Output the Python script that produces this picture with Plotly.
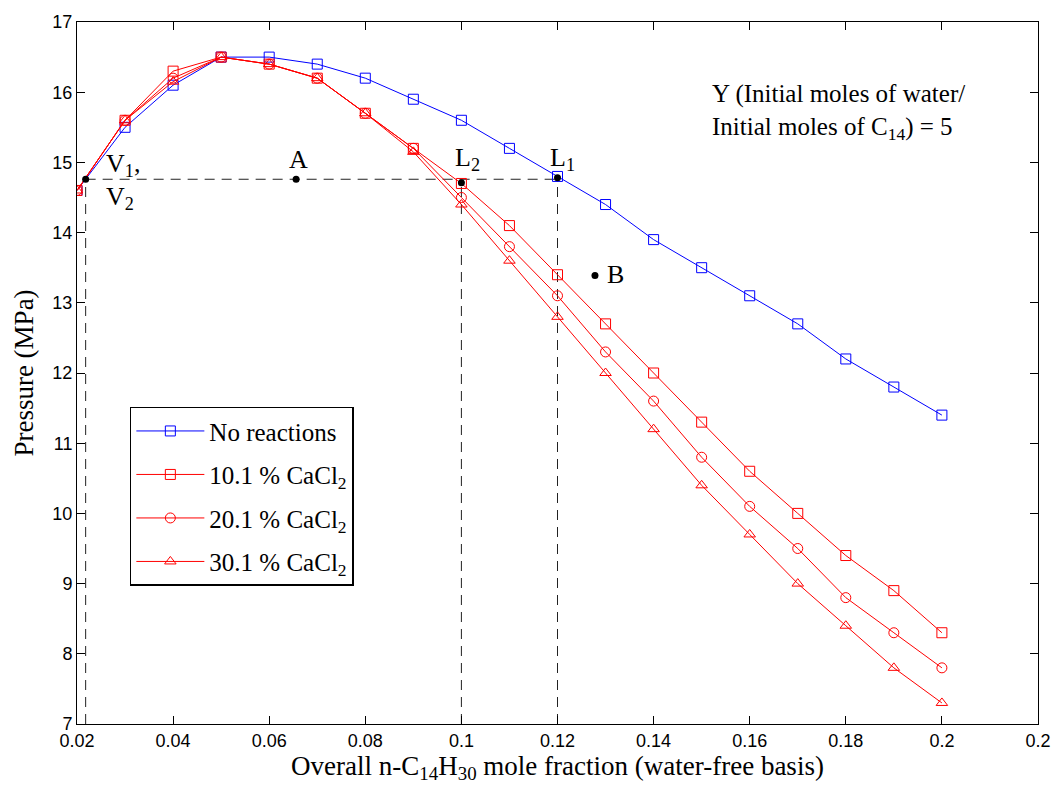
import plotly.graph_objects as go

x_frac = [0.02, 0.03, 0.04, 0.05, 0.06, 0.07, 0.08, 0.09, 0.10, 0.11,
          0.12, 0.13, 0.14, 0.15, 0.16, 0.17, 0.18, 0.19, 0.20]
p_none = [14.6, 15.5, 16.1, 16.5, 16.5, 16.4, 16.2, 15.9, 15.6, 15.2,
          14.8, 14.4, 13.9, 13.5, 13.1, 12.7, 12.2, 11.8, 11.4]
p_101 = [14.6, 15.6, 16.3, 16.5, 16.4, 16.2, 15.7, 15.2, 14.7, 14.1,
         13.4, 12.7, 12.0, 11.3, 10.6, 10.0, 9.4, 8.9, 8.3]
p_201 = [14.6, 15.6, 16.2, 16.5, 16.4, 16.2, 15.7, 15.2, 14.5, 13.8,
         13.1, 12.3, 11.6, 10.8, 10.1, 9.5, 8.8, 8.3, 7.8]
p_301 = [14.6, 15.6, 16.15, 16.5, 16.4, 16.2, 15.7, 15.15, 14.4, 13.6,
         12.8, 12.0, 11.2, 10.4, 9.7, 9.0, 8.4, 7.8, 7.3]

# Special points (V1/V2, A, L2, L1, B)
pt_names = ["V", "A", "L2", "L1", "B"]
pt_x = [0.0218, 0.0656, 0.100, 0.120, 0.1278]
pt_y = [14.76, 14.76, 14.71, 14.78, 13.39]

# Tie-line (dashed) guides
tie_x = [0.0218, 0.120]
tie_y = [14.76, 14.76]
vert_x = [0.0218, 0.100, 0.120]
vert_top = [14.76, 14.71, 14.78]
y_min = 7

xticks = [0.02, 0.04, 0.06, 0.08, 0.10, 0.12, 0.14, 0.16, 0.18, 0.20, 0.22]
xtick_text = ["0.02", "0.04", "0.06", "0.08", "0.1", "0.12", "0.14", "0.16", "0.18", "0.2", "0.2"]
yticks = [7, 8, 9, 10, 11, 12, 13, 14, 15, 16, 17]

SERIF = "Liberation Serif"
SANS = "Liberation Sans"
BLUE = "#0000ff"
RED = "#ff0000"

fig = go.Figure()

# dashed guides
fig.add_trace(go.Scatter(x=tie_x, y=tie_y, mode="lines",
                         line=dict(color="#222222", width=1, dash="10px,7px"),
                         showlegend=False, hoverinfo="skip"))
for vx, vt in zip(vert_x, vert_top):
    fig.add_trace(go.Scatter(x=[vx, vx], y=[y_min, vt], mode="lines",
                             line=dict(color="#222222", width=1, dash="10px,7px"),
                             showlegend=False, hoverinfo="skip"))

series = [
    ("No reactions", p_none, BLUE, "square-open", 10),
    ("10.1 % CaCl<sub>2</sub>", p_101, RED, "square-open", 10),
    ("20.1 % CaCl<sub>2</sub>", p_201, RED, "circle-open", 10),
    ("30.1 % CaCl<sub>2</sub>", p_301, RED, "triangle-up-open", 10),
]
for i, (name, yv, col, sym, sz) in enumerate(series):
    fig.add_trace(go.Scatter(
        x=x_frac, y=yv, mode="lines+markers", name=name,
        legendgroup=f"g{i}",
        line=dict(color=col, width=1),
        marker=dict(symbol=sym, size=sz, color=col, line=dict(color=col, width=1)),
    ))

fig.add_trace(go.Scatter(x=pt_x, y=pt_y, mode="markers",
                         marker=dict(color="black", size=7),
                         showlegend=False, hoverinfo="skip"))

ann = [
    dict(x=pt_x[0], y=pt_y[0], text="V<sub>1</sub>,", xshift=18, yshift=14, anchor="left"),
    dict(x=pt_x[0], y=pt_y[0], text="V<sub>2</sub>", xshift=18, yshift=-19, anchor="left"),
    dict(x=pt_x[1], y=pt_y[1], text="A", xshift=2, yshift=20, anchor="center"),
    dict(x=pt_x[2], y=pt_y[2], text="L<sub>2</sub>", xshift=-8, yshift=24, anchor="left"),
    dict(x=pt_x[3], y=pt_y[3], text="L<sub>1</sub>", xshift=-10, yshift=19, anchor="left"),
    dict(x=pt_x[4], y=pt_y[4], text="B", xshift=10, yshift=1, anchor="left"),
]
annotations = []
for a in ann:
    annotations.append(dict(x=a["x"], y=a["y"], xref="x", yref="y", text=a["text"],
                            showarrow=False, xanchor=a["anchor"], yanchor="middle",
                            xshift=a["xshift"], yshift=a["yshift"],
                            font=dict(family=SERIF, size=26, color="black")))
annotations.append(dict(x=0.1518, y=15.72, xref="x", yref="y",
                        text="Y (Initial moles of water/<br>Initial moles of C<sub>14</sub>) = 5",
                        showarrow=False, xanchor="left", yanchor="middle", align="left",
                        font=dict(family=SERIF, size=25, color="black")))

axis_common = dict(showline=True, linecolor="black", linewidth=1, mirror="ticks",
                   ticks="inside", ticklen=8, tickcolor="black", showgrid=False,
                   zeroline=False, tickfont=dict(family=SANS, size=18, color="black"))

fig.update_layout(
    width=1063, height=791,
    margin=dict(l=77, r=13, t=19, b=67),
    paper_bgcolor="white", plot_bgcolor="white",
    annotations=annotations,
    xaxis=dict(range=[0.02, 0.22], tickvals=xticks, ticktext=xtick_text,
               title=dict(text="Overall n-C<sub>14</sub>H<sub>30</sub> mole fraction (water-free basis)",
                          font=dict(family=SERIF, size=27, color="black"), standoff=2),
               **axis_common),
    yaxis=dict(range=[7, 17], tickvals=yticks,
               title=dict(text="Pressure (MPa)", font=dict(family=SERIF, size=27, color="black"),
                          standoff=10),
               **axis_common),
    legend=dict(x=0.055, y=0.452, xanchor="left", yanchor="top",
                bgcolor="white", bordercolor="black", borderwidth=1.5,
                font=dict(family=SERIF, size=25, color="black"),
                tracegroupgap=8, itemwidth=68),
    showlegend=True,
)

fig.write_html("out.html")
